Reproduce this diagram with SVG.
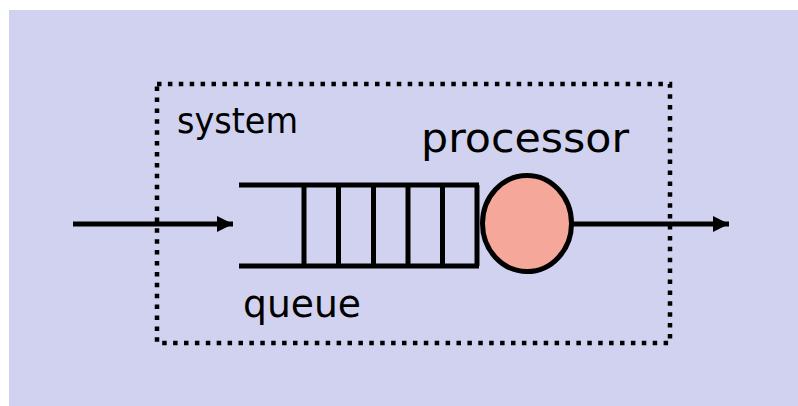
<svg xmlns="http://www.w3.org/2000/svg" width="798" height="406" viewBox="0 0 798 406">
  <style>
    .ink { stroke: #000; stroke-width: 5; fill: none; }
    .label { font-family: "DejaVu Sans", Verdana, sans-serif; fill: #000; }
  </style>
  <defs>
    <marker id="arrow" viewBox="0 0 16 16" refX="16" refY="8" markerWidth="16" markerHeight="16" markerUnits="userSpaceOnUse" orient="auto">
      <path d="M0,0 L16,8 L0,16 Z" fill="#000"/>
    </marker>
  </defs>

  <!-- backdrop -->
  <rect x="9" y="10" width="789" height="396" fill="#D1D2EF"/>

  <!-- system boundary -->
  <g id="system">
    <rect x="157" y="84" width="513" height="259" fill="none" stroke="#000" stroke-width="4.5" stroke-dasharray="4.5 6.4"/>
    <text class="label" x="177" y="133" font-size="36" textLength="121" lengthAdjust="spacingAndGlyphs">system</text>
  </g>

  <!-- waiting line -->
  <g id="queue">
    <line class="ink" x1="239" y1="185" x2="479" y2="185"/>
    <line class="ink" x1="239" y1="266" x2="479" y2="266"/>
    <line class="ink" x1="304" y1="185" x2="304" y2="266"/>
    <line class="ink" x1="338.5" y1="185" x2="338.5" y2="266"/>
    <line class="ink" x1="373.5" y1="185" x2="373.5" y2="266"/>
    <line class="ink" x1="408" y1="185" x2="408" y2="266"/>
    <line class="ink" x1="442.5" y1="185" x2="442.5" y2="266"/>
    <line class="ink" x1="477" y1="185" x2="477" y2="266"/>
    <text class="label" x="243" y="317" font-size="39" textLength="118" lengthAdjust="spacingAndGlyphs">queue</text>
  </g>

  <!-- server -->
  <g id="processor">
    <ellipse cx="527" cy="223.5" rx="44.5" ry="48" fill="#F5A89A" stroke="#000" stroke-width="5"/>
    <text class="label" x="421" y="152" font-size="41" textLength="208" lengthAdjust="spacingAndGlyphs">processor</text>
  </g>

  <!-- flow in and out -->
  <g id="connectors">
    <line class="ink" x1="73" y1="224" x2="233" y2="224" marker-end="url(#arrow)"/>
    <line class="ink" x1="571" y1="224" x2="729" y2="224" marker-end="url(#arrow)"/>
  </g>
</svg>
